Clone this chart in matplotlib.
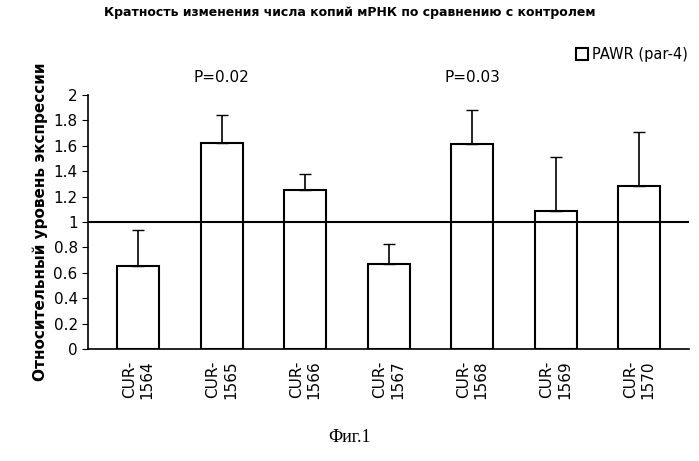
import matplotlib.pyplot as plt

categories = ["CUR-\n1564", "CUR-\n1565", "CUR-\n1566", "CUR-\n1567", "CUR-\n1568", "CUR-\n1569", "CUR-\n1570"]
values = [0.65, 1.62, 1.25, 0.67, 1.61, 1.09, 1.28]
errors = [0.29, 0.22, 0.13, 0.16, 0.27, 0.42, 0.43]
yticks = [0, 0.2, 0.4, 0.6, 0.8, 1, 1.2, 1.4, 1.6, 1.8, 2]
pvals = [(1, "P=0.02"), (4, "P=0.03")]

fig = plt.figure(figsize=(6.99, 4.61), dpi=100)
ax = fig.add_axes([0.126, 0.243, 0.86, 0.551])

x = list(range(len(categories)))
ax.bar(x, values, width=0.5, color="white", edgecolor="black", linewidth=1.5,
       label="PAWR (par-4)")
ax.errorbar(x, values, yerr=[[0] * len(errors), errors], fmt="none",
            ecolor="black", elinewidth=1.2, capsize=4)
ax.axhline(1, color="black", linewidth=1.5)

for i, txt in pvals:
    ax.text(i, 2.08, txt, ha="center", va="bottom", fontsize=11)

ax.set_xlim(-0.6, len(categories) - 0.4)
ax.set_ylim(0, 2)
ax.set_yticks(yticks)
ax.set_yticklabels([f"{t:g}" for t in yticks], fontsize=11)
ax.set_xticks(x)
ax.set_xticklabels(categories, rotation=90, fontsize=11, va="top")
ax.tick_params(axis="x", length=0, pad=8)
ax.tick_params(axis="y", direction="out", length=4)
for s in ["top", "right"]:
    ax.spines[s].set_visible(False)
ax.spines["left"].set_linewidth(1.2)
ax.spines["bottom"].set_linewidth(1.2)
ax.set_ylabel("Относительный уровень экспрессии", fontsize=11, fontweight="bold")

ax.legend(loc="upper right", bbox_to_anchor=(1.02, 1.24), frameon=False,
          fontsize=10.5, handlelength=0.8, handleheight=0.8, handletextpad=0.3)

fig.text(0.5, 0.972, "Кратность изменения числа копий мРНК по сравнению с контролем",
         ha="center", va="center", fontsize=9, fontweight="bold")
fig.text(0.5, 0.052, "Фиг.1", ha="center", va="center", fontsize=13, family="Liberation Serif")

fig.savefig("out.png", dpi=100)
